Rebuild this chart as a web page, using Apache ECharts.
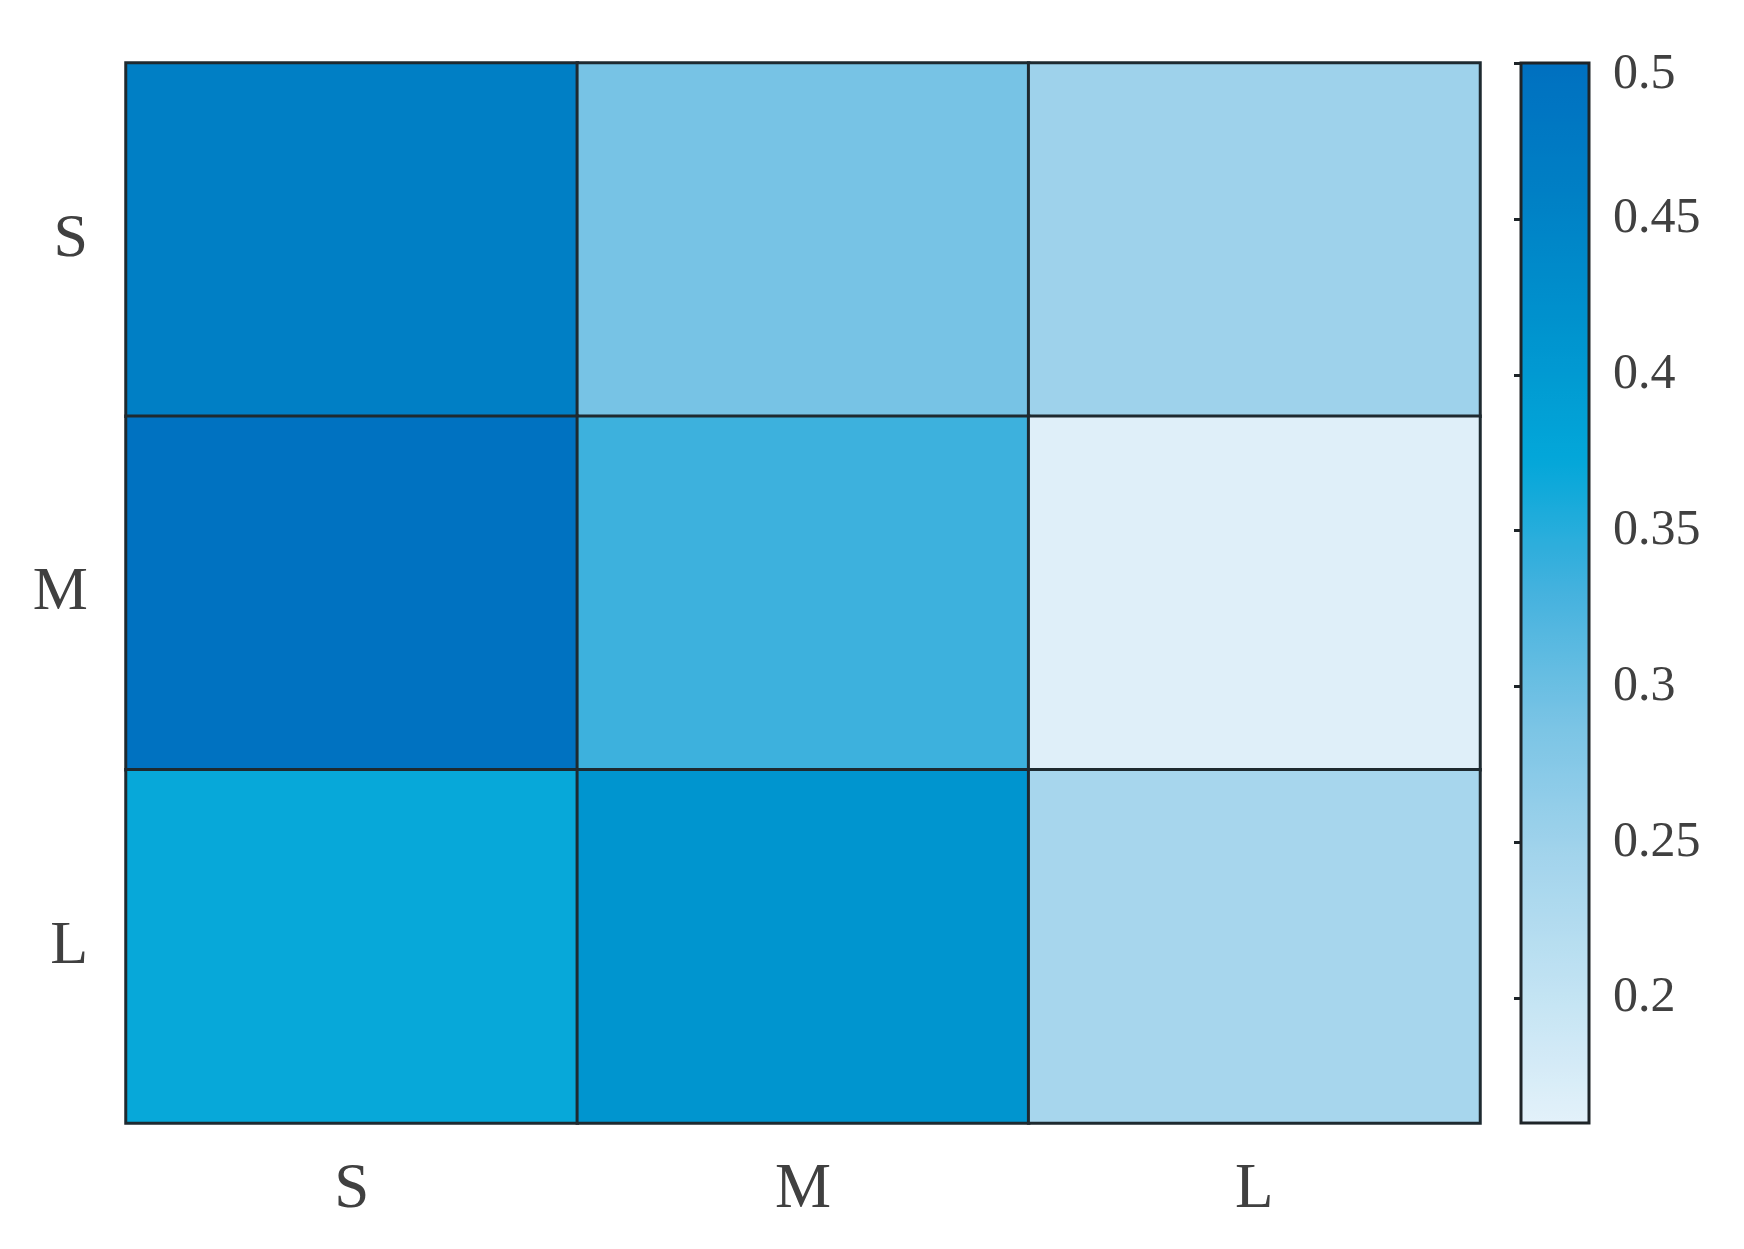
<!DOCTYPE html>
<html>
<head>
<meta charset="utf-8">
<script src="https://cdn.jsdelivr.net/npm/echarts@6/dist/echarts.min.js"></script>
<style>html,body{margin:0;padding:0;background:#fff}#c{width:1744px;height:1249px}</style>
</head>
<body>
<div id="c"></div>
<script>
const xCategories = ['S', 'M', 'L'];
const yCategories = ['S', 'M', 'L'];
const rowS = [0.46, 0.29, 0.25];
const rowM = [0.495, 0.335, 0.165];
const rowL = [0.37, 0.41, 0.24];
const colorbarTicks = [0.2, 0.25, 0.3, 0.35, 0.4, 0.45, 0.5];
const colorMin = 0.16;
const colorMax = 0.5;
const palette = ['#E3F1FA', '#C2E3F3', '#A3D4EC', '#7AC4E5', '#45B2DE', '#03A7D9', '#0093CE', '#0080C5', '#0070C0'];

const rows = [rowS, rowM, rowL];
const data = [];
rows.forEach((row, yi) => row.forEach((v, xi) => data.push([xi, yi, v])));

const font = "'Liberation Serif', 'Times New Roman', serif";
const chart = echarts.init(document.getElementById('c'), null, {renderer: 'canvas'});
chart.setOption({
  backgroundColor: '#fff',
  animation: false,
  grid: [
    {left: 126, top: 63, width: 1354, height: 1060},
    {left: 1521, top: 63, width: 68, height: 1060, show: true, z: 10,
     borderColor: '#1e2428', borderWidth: 3, backgroundColor: 'transparent'}
  ],
  xAxis: [
    {type: 'category', gridIndex: 0, data: xCategories,
     axisLine: {show: false}, axisTick: {show: false}, splitLine: {show: false},
     axisLabel: {fontFamily: font, fontSize: 63, color: '#404040', margin: 36}},
    {type: 'value', gridIndex: 1, show: false}
  ],
  yAxis: [
    {type: 'category', gridIndex: 0, data: yCategories, inverse: true,
     axisLine: {show: false}, axisTick: {show: false}, splitLine: {show: false},
     axisLabel: {fontFamily: font, fontSize: 62, color: '#404040', margin: 38}},
    {type: 'value', gridIndex: 1, position: 'right', min: colorMin, max: colorMax, z: 10,
     axisLine: {show: false}, splitLine: {show: false},
     axisTick: {show: true, inside: true, length: 7, customValues: colorbarTicks,
                lineStyle: {color: '#1e2428', width: 3}},
     axisLabel: {fontFamily: font, fontSize: 50, color: '#404040', margin: 24,
                 customValues: colorbarTicks,
                 formatter: v => { const s = String(+(+v).toFixed(2)); return +v >= 0.499 ? '{top|' + s + '}' : s; },
                 rich: {top: {fontFamily: font, fontSize: 50, color: '#404040', padding: [24, 0, 0, 0]}}}}
  ],
  visualMap: {
    type: 'continuous', min: colorMin, max: colorMax, seriesIndex: 0,
    orient: 'vertical', left: 1521, top: 63, itemWidth: 68, itemHeight: 1060,
    padding: 0, calculable: false, text: null, showLabel: false, z: 1,
    inRange: {color: palette}
  },
  series: [{
    type: 'heatmap', xAxisIndex: 0, yAxisIndex: 0, data: data,
    itemStyle: {borderColor: '#1e2a30', borderWidth: 3},
    emphasis: {disabled: true}
  }]
});
</script>
</body>
</html>
